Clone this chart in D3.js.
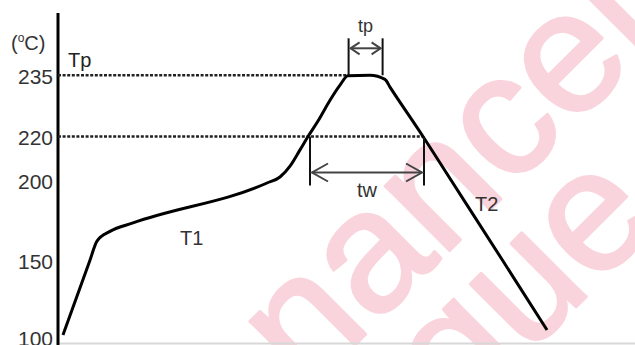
<!DOCTYPE html>
<html>
<head>
<meta charset="utf-8">
<script src="https://cdn.jsdelivr.net/npm/d3@7"></script>
<style>
html,body{margin:0;padding:0;background:#fff;}
svg{display:block;font-family:"Liberation Sans",Arial,sans-serif;}
</style>
</head>
<body>
<svg id="chart" width="635" height="345"></svg>
<script>
// ---- data ----
const tickTemps = [100, 150, 200, 220, 235];
const tickLabels = ["100", "150", "200", "220", "235"];
// reflow profile (time in arbitrary units, temperature in °C)
const profileTime = [2.5, 15.85, 19.5, 26, 37.5, 104.5, 111, 116, 121, 125, 130, 136, 141, 145, 156, 163.5, 166, 182.5, 196.8, 222.5, 244.5];
const profileTemp = [102, 150, 162.4, 168.5, 173.8, 198.75, 201.8, 206.7, 214, 220, 223.8, 228.9, 232.6, 234.9, 235, 234.0, 232.1, 220, 200, 150, 105.2];
const refTemps = [235, 220];          // dotted reference levels
const refEnds = [145, 182.5];         // time where each dotted line ends
const refNames = ["Tp", ""];
const tpRange = [145.3, 162.3];       // time above peak
const twRange = [126, 183];           // time above 220
const segLabels = [{text: "T1", t: 61, temp: 160}, {text: "T2", t: 208.5, temp: 181}];
const watermarkLines = ["nancel", "que"];

// ---- scales ----
const svg = d3.select("#chart");
const x = d3.scaleLinear().domain([0, 290]).range([58, 638]);
const y = d3.scaleLinear().domain(tickTemps).range([338, 261, 181, 136.5, 75.3]);

// ---- watermark ----
const wm = svg.append("g").attr("fill", "#f9d4dd").attr("stroke", "#f9d4dd").attr("stroke-width", 3)
  .attr("stroke-linejoin", "round")
  .style("font-family", "'Liberation Sans',Arial,sans-serif")
  .style("font-size", "172px");
const wmPos = [[306, 394], [459, 424]];
watermarkLines.forEach((w, i) => {
  wm.append("text").attr("transform", `translate(${wmPos[i][0]},${wmPos[i][1]}) rotate(-45)`).text(w);
});

// bottom border
svg.append("line").attr("x1", x(0)).attr("x2", 635).attr("y1", 343.5).attr("y2", 343.5)
  .attr("stroke", "#d8d8d8").attr("stroke-width", 2);

// ---- y axis ----
const yAxis = d3.axisLeft(y).tickValues(tickTemps).tickFormat((d, i) => tickLabels[i]).tickSize(0).tickPadding(4);
const ga = svg.append("g").attr("transform", `translate(${x(0) - 1},0)`).call(yAxis);
ga.select(".domain").remove();
ga.selectAll("text").attr("fill", "#333").style("font-size", "21px")
  .style("font-family", "'Liberation Sans',Arial,sans-serif").attr("dy", "0.38em");
svg.append("line").attr("x1", x(0)).attr("x2", x(0)).attr("y1", 13).attr("y2", 345)
  .attr("stroke", "#000").attr("stroke-width", 3);

// unit label
const unit = svg.append("text").attr("x", 11).attr("y", 50).attr("fill", "#333").style("font-size", "20px");
unit.append("tspan").text("(");
unit.append("tspan").text("o").style("font-size", "12px").attr("dy", "-8");
unit.append("tspan").text("C)").attr("dy", "8");

// ---- dotted reference lines ----
refTemps.forEach((t, i) => {
  svg.append("line").attr("x1", x(0)).attr("x2", x(refEnds[i]))
    .attr("y1", y(t)).attr("y2", y(t))
    .attr("stroke", "#222").attr("stroke-width", 2.5).attr("stroke-dasharray", "3,1.6");
  if (refNames[i]) svg.append("text").attr("x", x(0) + 10).attr("y", y(t) - 8)
    .attr("fill", "#222").style("font-size", "20px").text(refNames[i]);
});

// ---- profile curve ----
const pts = profileTime.map((t, i) => [t, profileTemp[i]]);
svg.append("path").datum(pts)
  .attr("d", d3.line().x(d => x(d[0])).y(d => y(d[1])).curve(d3.curveMonotoneX))
  .attr("fill", "none").attr("stroke", "#000").attr("stroke-width", 3).attr("stroke-linejoin", "round");

// ---- annotation helpers ----
function dimension(range, yTop, yBot, yArrow, head, label, labelY, size) {
  const g = svg.append("g").attr("stroke", "#111").attr("stroke-width", 2).attr("fill", "none");
  const x0 = x(range[0]), x1 = x(range[1]);
  g.append("line").attr("x1", x0).attr("x2", x0).attr("y1", yTop).attr("y2", yBot);
  g.append("line").attr("x1", x1).attr("x2", x1).attr("y1", yTop).attr("y2", yBot);
  const a = svg.append("g").attr("stroke", "#444").attr("stroke-width", 2).attr("fill", "none");
  a.append("line").attr("x1", x0 + 2).attr("x2", x1 - 2).attr("y1", yArrow).attr("y2", yArrow);
  a.append("path").attr("d", `M${x0 + 2 + head[0]},${yArrow - head[1]}L${x0 + 2},${yArrow}L${x0 + 2 + head[0]},${yArrow + head[1]}`);
  a.append("path").attr("d", `M${x1 - 2 - head[0]},${yArrow - head[1]}L${x1 - 2},${yArrow}L${x1 - 2 - head[0]},${yArrow + head[1]}`);
  svg.append("text").attr("x", (x0 + x1) / 2).attr("y", labelY).attr("text-anchor", "middle")
    .attr("fill", "#333").style("font-size", size + "px").text(label);
}
dimension(tpRange, y(235) - 37, y(235), y(235) - 27, [9, 6], "tp", 32, 18);
dimension(twRange, y(220), y(220) + 49, y(220) + 36, [16, 9], "tw", 197, 20);

// ---- segment labels ----
segLabels.forEach(s => {
  svg.append("text").attr("x", x(s.t)).attr("y", y(s.temp)).attr("fill", "#333")
    .style("font-size", "20px").text(s.text);
});
</script>
</body>
</html>
